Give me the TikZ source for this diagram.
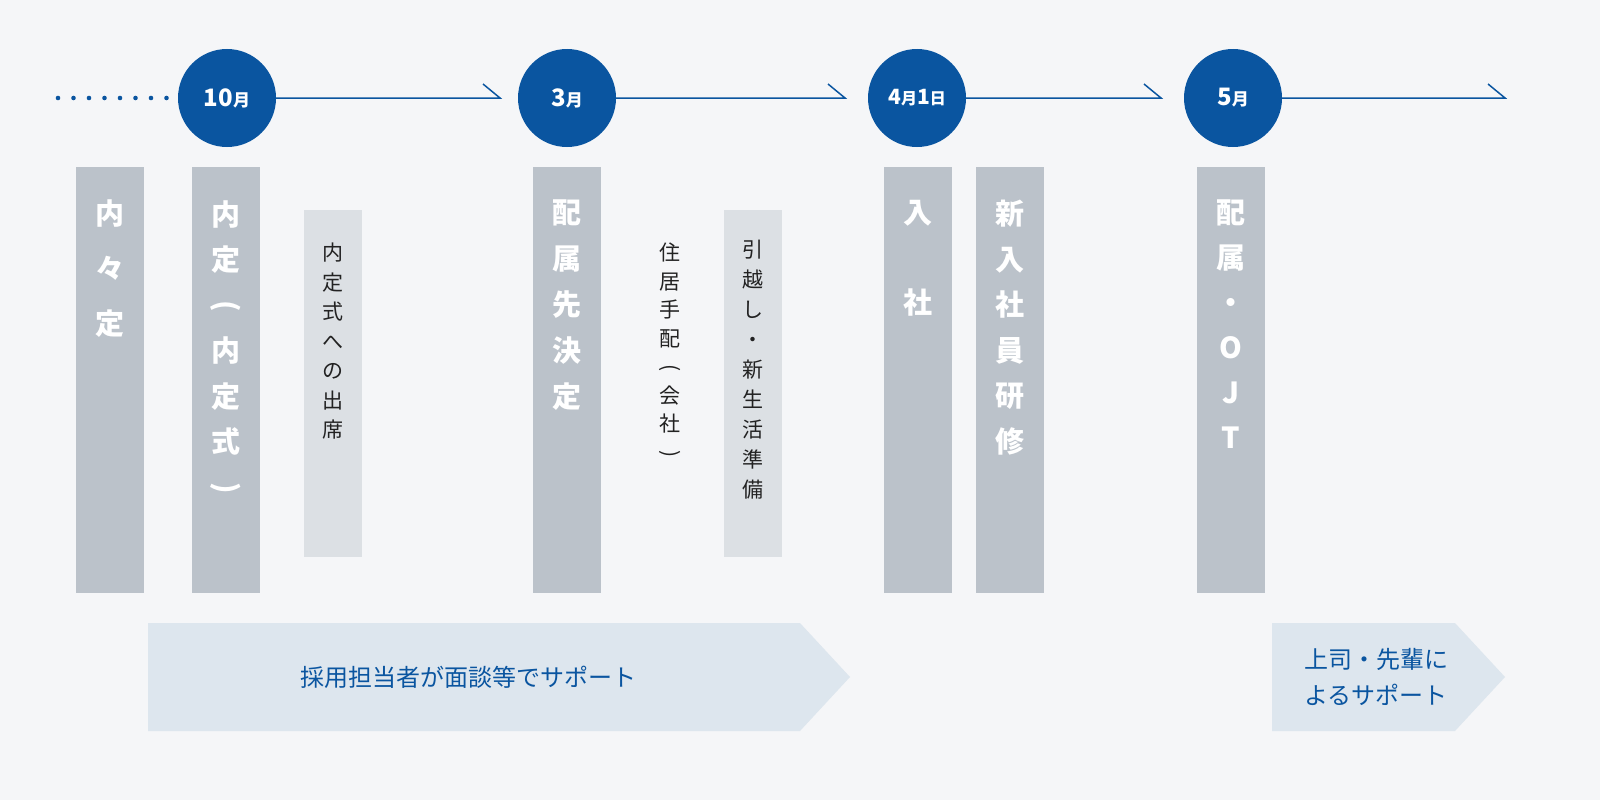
\documentclass[tikz,border=0pt]{standalone}
\usepackage{fontspec}
\usepackage{graphicx}
\setmainfont{Noto Sans CJK JP}
\newfontfamily\jpb[BoldFont={* Bold}]{Noto Sans CJK JP}
\definecolor{bg}{HTML}{F5F6F8}
\definecolor{navy}{HTML}{0A55A0}
\definecolor{barD}{HTML}{BBC2CA}
\definecolor{barL}{HTML}{DCE0E4}
\definecolor{band}{HTML}{DDE6EE}
\definecolor{txt}{HTML}{222222}
\newcommand{\rp}[1]{\rotatebox[origin=c]{-90}{#1}}
\tikzset{
  month/.style={circle,fill=navy,minimum size=98pt,inner sep=0,text=white,font=\fontsize{24}{24}\selectfont\bfseries},
  tl/.style={draw=navy,line width=1.5pt},
  darkbar/.style={fill=barD},
  lightbar/.style={fill=barL},
  vbig/.style={text=white,anchor=north,align=center,inner sep=0,font=\fontsize{29}{#1}\selectfont\bfseries},
  vsmall/.style={text=txt,anchor=north,align=center,inner sep=0,font=\fontsize{21}{#1}\selectfont},
  bandtxt/.style={text=navy,align=center,font=\fontsize{24}{36}\selectfont}
}
\begin{document}
\begin{tikzpicture}[x=1pt,y=-1pt]
\fill[bg] (0,0) rectangle (1600,800);
\useasboundingbox (0,0) rectangle (1600,800);
% timeline
\foreach \i in {0,...,7} \fill[navy] (58+\i*15.5,98) circle (2.3pt);
\node[month] (m10) at (227,98) {10\fontsize{17}{17}\selectfont 月};
\node[month] (m3) at (567,98) {3\fontsize{17}{17}\selectfont 月};
\node[month] (m4) at (917,98) {\fontsize{21}{21}\selectfont 4\fontsize{16}{16}\selectfont 月\fontsize{21}{21}\selectfont 1\fontsize{16}{16}\selectfont 日};
\node[month] (m5) at (1233,98) {5\fontsize{17}{17}\selectfont 月};
\coordinate (e1) at (500,98); \coordinate (e2) at (845,98);
\coordinate (e3) at (1161,98); \coordinate (e4) at (1505,98);
\draw[tl] (m10.east) -- (e1) -- ++(-17,-14);
\draw[tl] (m3.east) -- (e2) -- ++(-17,-14);
\draw[tl] (m4.east) -- (e3) -- ++(-17,-14);
\draw[tl] (m5.east) -- (e4) -- ++(-17,-14);
% bars
\fill[darkbar] (76,167) rectangle (144,593);
\fill[darkbar] (192,167) rectangle (260,593);
\fill[lightbar] (304,210) rectangle (362,557);
\fill[darkbar] (533,167) rectangle (601,593);
\fill[lightbar] (724,210) rectangle (782,557);
\fill[darkbar] (884,167) rectangle (952,593);
\fill[darkbar] (976,167) rectangle (1044,593);
\fill[darkbar] (1197,167) rectangle (1265,593);
% texts
\node[vbig=55] (t1) at (110,200) {内\\々\\定};
\node[vbig=45.5] (t2) at (226,200) {内\\定\\\rp{(}\\内\\定\\式\\\rp{)}};
\node[vsmall=29.5] (t3) at (333,243) {内\\定\\式\\へ\\の\\出\\席};
\node[vbig=46] (t4) at (567,200) {配\\属\\先\\決\\定};
\node[vsmall=28.5] (t5) at (670,243) {住\\居\\手\\配\\\rp{(}\\会\\社\\\rp{)}};
\node[vsmall=30] (t6) at (753,240) {引\\越\\し\\・\\新\\生\\活\\準\\備};
\node[vbig=90] (t7) at (918,200) {入\\社};
\node[vbig=45.5] (t8) at (1010,200) {新\\入\\社\\員\\研\\修};
\node[vbig=45] (t9) at (1231,200) {配\\属\\・\\O\\J\\T};
% support bands
\fill[band] (148,623) -- (800,623) -- (850,677) -- (800,731) -- (148,731) -- cycle;
\node[bandtxt] (s1) at (468,677) {採用担当者が面談等でサポート};
\fill[band] (1272,623) -- (1455,623) -- (1505,677) -- (1455,731) -- (1272,731) -- cycle;
\node[bandtxt] (s2) at (1376,677) {上司・先輩に\\よるサポート};
\end{tikzpicture}
\end{document}
